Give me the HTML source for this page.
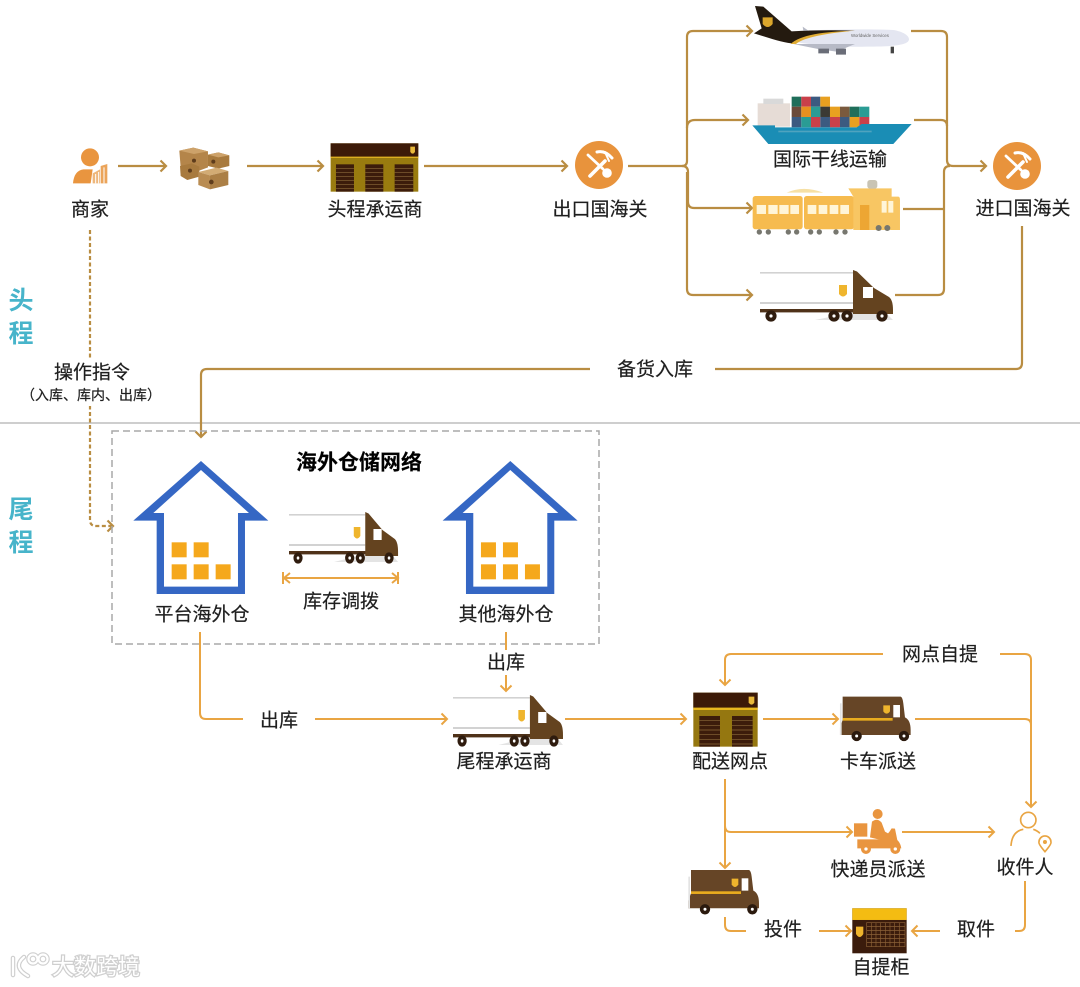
<!DOCTYPE html>
<html lang="zh">
<head>
<meta charset="utf-8">
<title>头程尾程物流网络</title>
<style>
html,body{margin:0;padding:0;background:#fff;width:1080px;height:987px;overflow:hidden}
svg{display:block;filter:blur(.35px)}
text{font-family:"Liberation Sans","Noto Sans CJK SC",sans-serif;fill:#1f1f1f;stroke:#1f1f1f;stroke-width:.2;font-size:19px;text-anchor:middle;dominant-baseline:central}
.h{fill:none;stroke:#b98d42;stroke-width:2.2}
.t{fill:none;stroke:#e9a543;stroke-width:2}
text.wm{fill:#fff;stroke:#cfcfcf;stroke-width:2.5;paint-order:stroke;font-size:22px}
</style>
</head>
<body>
<svg width="1080" height="987" viewBox="0 0 1080 987" xmlns="http://www.w3.org/2000/svg">
<defs>
<marker id="ah" markerUnits="userSpaceOnUse" markerWidth="12" markerHeight="14" refX="9" refY="7" orient="auto" overflow="visible"><path d="M3.5,1.5 L9,7 L3.5,12.5" fill="none" stroke="#b98d42" stroke-width="2.2"/></marker>
<marker id="at" markerUnits="userSpaceOnUse" markerWidth="12" markerHeight="14" refX="9" refY="7" orient="auto" overflow="visible"><path d="M3.5,1.5 L9,7 L3.5,12.5" fill="none" stroke="#e9a543" stroke-width="2"/></marker>

<g id="truck">
<rect x="0" y="3" width="93" height="38" fill="#fff"/>
<rect x="0" y="2" width="93" height="1.6" fill="#d2d2d2"/>
<rect x="0" y="32" width="93" height="2" fill="#d2d2d2"/>
<path d="M55,50 L93,42 L125,42 L133,50Z" fill="#e4e4e4"/>
<rect x="0" y="39" width="95" height="3.4" fill="#4f3219"/>
<path d="M93,0 L97,1.5 L114,18 L129,27 Q133,30 133,40 L133,44 L93,44Z" fill="#64431f"/>
<rect x="103" y="17" width="10" height="11" fill="#fff"/>
<path d="M79,15 H87 V24 Q83,29 79,24Z" fill="#efb52d"/>
<g fill="#fff" stroke="#2f1c0e" stroke-width="4"><circle cx="11" cy="46" r="3.6"/><circle cx="74" cy="46" r="3.6"/><circle cx="87" cy="46" r="3.6"/><circle cx="122" cy="46" r="3.6"/></g>
</g>

<g id="van">
<path d="M548,170 H722 Q728,172 730,190 L735,232 Q752,240 752,270 V285 H540 V262 L548,240Z" fill="#664526"/>
<rect x="700" y="195" width="20" height="37" fill="#fff"/>
<rect x="548" y="234" width="150" height="8" fill="#e9ac1f"/>
<path d="M670,196 H690 V214 Q680,228 670,214Z" fill="#efb52d"/>
<rect x="540" y="190" width="5" height="95" fill="#e3e3e3"/>
<g fill="#fff" stroke="#2b1a0e" stroke-width="11"><circle cx="590" cy="288" r="10"/><circle cx="732" cy="288" r="10"/></g>
</g>

<g id="customs">
<circle r="24" fill="#e8933c"/>
<g stroke="#fff" fill="none" stroke-linecap="round">
<path d="M-11,-10 L4,4" stroke-width="2.8"/>
<path d="M6,-4 L-9,11" stroke-width="3.6"/>
<path d="M-2,-13 Q6,-15 13,-7" stroke-width="3"/>
<path d="M6,-13 L10,-4" stroke-width="2"/>
</g>
<circle cx="8" cy="8" r="4.8" fill="#fff"/>
</g>

<g id="house">
<path d="M303,108 L505,287 H435 V507 H170 V287 H100Z" fill="#3567c4"/>
<path d="M303,135 L447,264 H414 V485 H192 V264 H160Z" fill="#fff"/>
<g fill="#f5a81c"><rect x="215" y="352" width="45" height="45"/><rect x="281" y="352" width="45" height="45"/><rect x="215" y="418" width="45" height="45"/><rect x="281" y="418" width="45" height="45"/><rect x="347" y="418" width="45" height="45"/></g>
</g>
</defs>

<!-- divider -->
<line x1="0" y1="423" x2="1080" y2="423" stroke="#bdbdbd" stroke-width="1.4"/>

<!-- head connectors -->
<path class="h" marker-end="url(#ah)" d="M118,166 H166"/>
<path class="h" marker-end="url(#ah)" d="M247,166 H323"/>
<path class="h" marker-end="url(#ah)" d="M424,166 H567"/>
<path class="h" d="M628,166 H682 Q687,166 687,161 V37 Q687,31 693,31 H752" marker-end="url(#ah)"/>
<path class="h" d="M687,128 Q687,120 695,120 H748" marker-end="url(#ah)"/>
<path class="h" d="M682,166 Q688,166 688,172 V202 Q688,208 694,208 H752" marker-end="url(#ah)"/>
<path class="h" d="M687,172 V289 Q687,295 693,295 H752" marker-end="url(#ah)"/>
<path class="h" d="M911,31 H941 Q947,31 947,37 V160 Q947,166 953,166 H986" marker-end="url(#ah)"/>
<path class="h" d="M914,120 H941 Q947,120 947,126"/>
<path class="h" d="M903,209 H944"/>
<path class="h" d="M895,295 H938 Q944,295 944,289 V172 Q944,166 950,166"/>
<path class="h" d="M1022,226 V363 Q1022,369 1016,369 H715"/>
<path class="h" d="M590,369 H207 Q201,369 201,375 V437" marker-end="url(#ah)"/>
<path class="h" d="M90,230 V520 Q90,526 96,526 H113" stroke-dasharray="4 2.5" stroke-width="1.8" marker-end="url(#ah)"/>
<rect x="20" y="358" width="142" height="48" fill="#fff"/>

<!-- dashed box -->
<rect x="112" y="431" width="487" height="213" fill="none" stroke="#a9a9a9" stroke-width="1.5" stroke-dasharray="7 4"/>

<!-- tail connectors -->
<path class="t" d="M200,632 V713 Q200,719 206,719 H243"/>
<path class="t" d="M315,719 H447" marker-end="url(#at)"/>
<path class="t" d="M506,632 V650"/>
<path class="t" d="M506,675 V691" marker-end="url(#at)"/>
<path class="t" d="M565,719 H686" marker-end="url(#at)"/>
<path class="t" d="M763,719 H838" marker-end="url(#at)"/>
<path class="t" d="M915,719 H1025 Q1031,719 1031,725"/>
<path class="t" d="M1000,654 H1025 Q1031,654 1031,660 V807" marker-end="url(#at)"/>
<path class="t" d="M883,654 H731 Q725,654 725,660 V685" marker-end="url(#at)"/>
<path class="t" d="M725,779 V868" marker-end="url(#at)"/>
<path class="t" d="M725,826 Q725,832 731,832 H852" marker-end="url(#at)"/>
<path class="t" d="M902,832 H994" marker-end="url(#at)"/>
<path class="t" d="M725,917 V925 Q725,931 731,931 H746"/>
<path class="t" d="M819,931 H851" marker-end="url(#at)"/>
<path class="t" d="M940,931 H912" marker-end="url(#at)"/>
<path class="t" d="M1025,881 V925 Q1025,931 1019,931 H1015"/>

<!-- merchant / boxes / depot in zoom coords -->
<g transform="translate(50,130) scale(.3333)">
<circle cx="120" cy="82" r="27" fill="#e9953f"/>
<path d="M69,160 Q72,122 100,118 H128 L122,160Z" fill="#e9953f"/>
<path d="M128,160 V130 L150,118 V160Z" fill="#eeb77c"/>
<path d="M152,160 V108 L172,102 V160Z" fill="#eba45a"/>
<path d="M137,160 V132 M146,160 V126 M162,160 V112" stroke="#fff" stroke-width="3"/>

<path d="M388,62 L430,53 L474,64 V112 L440,125 L392,112Z" fill="#b4854a"/>
<path d="M388,62 L430,53 L474,64 L432,72Z" fill="#cda26a"/>
<path d="M474,74 L505,67 L538,76 V108 L505,116 L474,108Z" fill="#a87a3e"/>
<path d="M474,74 L505,67 L538,76 L505,82Z" fill="#cda26a"/>
<path d="M390,108 L425,100 L448,110 V140 L412,150 L392,138Z" fill="#a87a3e"/>
<path d="M445,126 L500,113 L535,123 L480,136Z" fill="#d2ab74"/>
<path d="M445,126 L480,136 V178 L445,165Z" fill="#b98c52"/>
<path d="M480,136 L535,123 V165 L480,178Z" fill="#ab7f46"/>
<circle cx="484" cy="156" r="7" fill="#5e3c1c"/><circle cx="490" cy="95" r="6" fill="#5e3c1c"/><circle cx="420" cy="122" r="6" fill="#5e3c1c"/><circle cx="432" cy="92" r="6" fill="#5e3c1c"/>

<rect x="842" y="40" width="263" height="145" fill="#997b0f"/>
<rect x="842" y="40" width="263" height="40" fill="#3c1a08"/>
<rect x="842" y="80" width="263" height="4" fill="#dcae21"/>
<path d="M1081,50 H1095 V66 Q1088,76 1081,66Z" fill="#e9b93b"/>
<g fill="#3c1c0b"><rect x="858" y="103" width="54" height="82"/><rect x="946" y="103" width="54" height="82"/><rect x="1034" y="103" width="56" height="82"/></g>
<g stroke="#8a6a3a" stroke-width="2"><path d="M858,115H912M858,127H912M858,139H912M858,151H912M858,163H912M858,175H912M946,115H1000M946,127H1000M946,139H1000M946,151H1000M946,163H1000M946,175H1000M1034,115H1090M1034,127H1090M1034,139H1090M1034,151H1090M1034,163H1090M1034,175H1090"/></g>
</g>

<use href="#customs" x="599" y="165"/>
<use href="#customs" x="1017" y="166"/>

<!-- transports in zoom coords -->
<g transform="translate(680,0) scale(.3333)">
<!-- plane -->
<path d="M235,100 C300,94 500,84 640,90 C672,95 692,110 686,122 C680,135 640,140 560,140 C480,142 380,135 330,122Z" fill="#e4e6f1"/>
<path d="M225,18 L250,20 L335,94 C400,90 460,90 525,92 C430,98 370,110 335,130 C300,126 262,112 222,100 L245,85Z" fill="#241a0f"/>
<path d="M525,92 C430,95 360,105 332,132 L348,132 C372,112 440,100 525,92Z" fill="#e0ac34"/>
<path d="M248,52 H278 V72 Q263,90 248,72Z" fill="#dca72c"/>
<path d="M340,132 L525,132 L470,155 L420,148Z" fill="#b7bac6"/>
<path d="M415,146 h32 v14 h-32Z M468,146 h30 v18 h-30Z" fill="#6a6d78"/>
<path d="M368,80 L385,92 L370,92Z" fill="#b7bac6"/>
<rect x="632" y="140" width="10" height="20" fill="#444"/>
<text x="570" y="106" style="font-size:13px;fill:#666;stroke:none">Worldwide Services</text>
<!-- ship -->
<rect x="233" y="310" width="97" height="70" fill="#e6dcd6"/>
<rect x="250" y="296" width="60" height="16" fill="#d9d9d9"/>
<g>
<rect x="335" y="290" width="29" height="30" fill="#1f6e5a"/><rect x="364" y="290" width="29" height="30" fill="#c9404a"/><rect x="393" y="290" width="28" height="30" fill="#3c5a80"/><rect x="421" y="290" width="29" height="30" fill="#e8a020"/>
<rect x="335" y="320" width="29" height="31" fill="#6b4a3a"/><rect x="364" y="320" width="29" height="31" fill="#e8901f"/><rect x="393" y="320" width="28" height="31" fill="#2a9c94"/><rect x="421" y="320" width="29" height="31" fill="#3b3a34"/><rect x="450" y="320" width="30" height="31" fill="#e8a020"/><rect x="480" y="320" width="29" height="31" fill="#7a5a3e"/><rect x="509" y="320" width="29" height="31" fill="#1f6e5a"/><rect x="538" y="320" width="30" height="31" fill="#2a9c94"/>
<rect x="335" y="351" width="29" height="31" fill="#3c5a80"/><rect x="364" y="351" width="29" height="31" fill="#2a9c94"/><rect x="393" y="351" width="28" height="31" fill="#c9404a"/><rect x="421" y="351" width="29" height="31" fill="#3c5a80"/><rect x="450" y="351" width="30" height="31" fill="#c9404a"/><rect x="480" y="351" width="29" height="31" fill="#3c5a80"/><rect x="509" y="351" width="29" height="31" fill="#e8a020"/><rect x="538" y="351" width="30" height="31" fill="#c9404a"/>
</g>
<path d="M217,376 H285 V382 H530 L545,372 H695 L640,432 H265Z" fill="#1a8db5"/>
<rect x="295" y="392" width="280" height="5" fill="#4fa3bf"/>
<!-- train -->
<path d="M320,578 Q370,555 430,578Z" fill="#f6e0a5"/>
<rect x="218" y="588" width="150" height="100" rx="8" fill="#f6bb4f"/>
<rect x="372" y="588" width="150" height="100" rx="8" fill="#f6bb4f"/>
<path d="M505,565 L635,565 V590 H655 Q660,590 660,600 V690 H520 V590Z" fill="#f8c663"/>
<rect x="562" y="540" width="30" height="26" rx="8" fill="#c9c4b4"/>
<rect x="540" y="615" width="28" height="75" fill="#eda633"/>
<g fill="#fff5d8">
<rect x="230" y="615" width="28" height="27"/><rect x="265" y="615" width="28" height="27"/><rect x="298" y="615" width="28" height="27"/><rect x="331" y="615" width="26" height="27"/>
<rect x="383" y="615" width="26" height="27"/><rect x="416" y="615" width="26" height="27"/><rect x="449" y="615" width="26" height="27"/><rect x="481" y="615" width="26" height="27"/>
<rect x="605" y="603" width="15" height="35"/><rect x="625" y="603" width="15" height="35"/>
</g>
<g fill="#77776f"><circle cx="238" cy="696" r="8"/><circle cx="265" cy="696" r="8"/><circle cx="325" cy="696" r="8"/><circle cx="350" cy="696" r="8"/><circle cx="392" cy="696" r="8"/><circle cx="418" cy="696" r="8"/><circle cx="468" cy="696" r="8"/><circle cx="495" cy="696" r="8"/><circle cx="596" cy="684" r="9"/><circle cx="622" cy="684" r="9"/></g>
</g>

<use href="#truck" transform="translate(760,270)"/>
<use href="#truck" transform="translate(289,512) scale(.82,1)"/>
<use href="#truck" transform="translate(453,695) scale(.827,1)"/>

<!-- houses -->
<g transform="translate(100,425) scale(.3333)">
<use href="#house"/>
<use href="#house" x="928"/>
</g>

<!-- transfer double arrow -->
<path class="t" d="M284,578 H398"/>
<path class="t" d="M283,572 V584 M398,572 V584 M290,573 L284,578 L290,583 M392,573 L398,578 L392,583"/>

<!-- bottom right icons -->
<g transform="translate(660,640) scale(.3333)">
<rect x="100" y="158" width="193" height="162" fill="#957710"/>
<rect x="100" y="158" width="193" height="45" fill="#3c1a08"/>
<rect x="100" y="203" width="193" height="7" fill="#e9b81f"/>
<path d="M266,170 H283 V188 Q275,200 266,188Z" fill="#e9b93b"/>
<g fill="#3c1c0b"><rect x="118" y="228" width="62" height="92"/><rect x="216" y="228" width="62" height="92"/></g>
<g stroke="#8a6a3a" stroke-width="2"><path d="M118,242H180M118,256H180M118,270H180M118,284H180M118,298H180M118,312H180M216,242H278M216,256H278M216,270H278M216,284H278M216,298H278M216,312H278"/></g>

<use href="#van"/>
<use href="#van" x="-455" y="520"/>

<!-- rider -->
<g fill="#e9953f">
<circle cx="653" cy="522" r="15"/>
<path d="M636,545 Q652,532 665,548 L675,575 L698,588 L690,600 L655,598 L630,592 Z"/>
<rect x="582" y="550" width="40" height="40"/>
<path d="M592,598 H665 Q680,590 695,565 L705,566 L712,600 Q722,610 724,625 H592Z"/>
</g>
<g fill="#fff" stroke="#e9953f" stroke-width="10"><circle cx="618" cy="627" r="10"/><circle cx="706" cy="627" r="10"/></g>

<!-- recipient -->
<g fill="none" stroke="#e9a543" stroke-width="5">
<circle cx="1105" cy="540" r="23"/>
<path d="M1053,618 Q1056,574 1090,568 M1120,568 Q1132,572 1140,580"/>
<path d="M1155,635 Q1135,612 1137,606 A18,18 0 1 1 1173,606 Q1175,612 1155,635Z"/>
</g>
<circle cx="1155" cy="606" r="6" fill="#e9a543"/>

<!-- locker -->
<rect x="577" y="805" width="163" height="135" fill="#3b1c0c"/>
<rect x="577" y="805" width="163" height="35" fill="#f4bc12"/>
<path d="M588,860 H610 V882 Q599,900 588,882Z" fill="#efb52d"/>
<g stroke="#8a6036" stroke-width="2" fill="none">
<rect x="620" y="848" width="115" height="72"/>
<path d="M620,860H735M620,872H735M620,884H735M620,896H735M620,908H735M634,848V920M648,848V920M662,848V920M676,848V920M690,848V920M704,848V920M718,848V920"/>
</g>
</g>

<!-- labels -->
<g transform="translate(0,1)">
<text x="90" y="209">商家</text>
<text x="375" y="209">头程承运商</text>
<text x="600" y="209">出口国海关</text>
<text x="830" y="159">国际干线运输</text>
<text x="1023" y="208">进口国海关</text>
<text x="655" y="369">备货入库</text>
<text x="92" y="372">操作指令</text>
<text x="91" y="394" style="font-size:14px">（入库、库内、出库）</text>
<text x="359" y="462" style="font-size:21px;font-weight:700;fill:#000">海外仓储网络</text>
<text x="202" y="614">平台海外仓</text>
<text x="341" y="601">库存调拨</text>
<text x="506" y="614">其他海外仓</text>
<text x="506" y="662">出库</text>
<text x="279" y="720">出库</text>
<text x="504" y="761">尾程承运商</text>
<text x="730" y="761">配送网点</text>
<text x="878" y="761">卡车派送</text>
<text x="940" y="654">网点自提</text>
<text x="878" y="869">快递员派送</text>
<text x="1025" y="867">收件人</text>
<text x="783" y="929">投件</text>
<text x="976" y="929">取件</text>
<text x="881" y="967">自提柜</text>

<text x="21" y="300" style="font-size:25px;font-weight:700;fill:#47b4ca;stroke:none">头</text>
<text x="21" y="333" style="font-size:25px;font-weight:700;fill:#47b4ca;stroke:none">程</text>
<text x="21" y="509" style="font-size:25px;font-weight:700;fill:#47b4ca;stroke:none">尾</text>
<text x="21" y="542" style="font-size:25px;font-weight:700;fill:#47b4ca;stroke:none">程</text>
</g>

<!-- watermark -->
<g fill="none" stroke="#cfcfcf" stroke-width="4.5" stroke-linecap="round">
<path d="M13,958 V975 M24,957 Q12,967 28,976"/>
<circle cx="33" cy="959" r="4.5"/><circle cx="43" cy="959" r="4.5"/>
</g>
<g fill="none" stroke="#fff" stroke-width="2.2" stroke-linecap="round">
<path d="M13,958 V975 M24,957 Q12,967 28,976"/>
<circle cx="33" cy="959" r="4.5"/><circle cx="43" cy="959" r="4.5"/>
</g>
<text class="wm" x="96" y="967">大数跨境</text>
</svg>
</body>
</html>
